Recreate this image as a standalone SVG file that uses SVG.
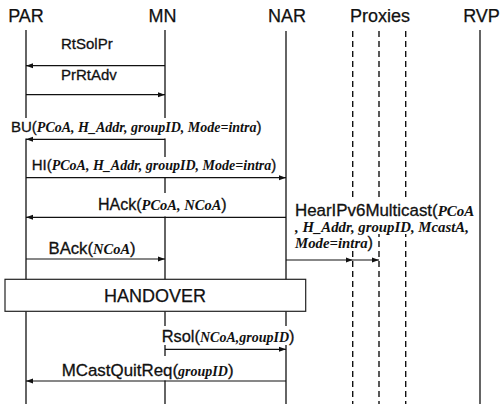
<svg xmlns="http://www.w3.org/2000/svg" width="503" height="404" viewBox="0 0 503 404">
<defs>
<style>
.hdr{font-family:"Liberation Sans",Arial,sans-serif;font-size:18px;fill:#111;stroke:#111;stroke-width:0.25;text-anchor:middle}
.lbl{font-family:"Liberation Sans",Arial,sans-serif;font-size:15px;fill:#111;stroke:#111;stroke-width:0.3}
.p{font-family:"Liberation Serif","Times New Roman",serif;font-style:italic;font-weight:bold;stroke:none}
.life{stroke:#111;stroke-width:1.3;fill:none}
.proxy{stroke:#111;stroke-width:1.4;fill:none;stroke-dasharray:6 4}
.msg{stroke:#111;stroke-width:1.2;fill:none;marker-end:url(#ah)}
.bg{fill:#fff;stroke:none}
</style>
<marker id="ah" markerUnits="userSpaceOnUse" markerWidth="8" markerHeight="6" refX="7" refY="3" orient="auto">
<path d="M0,0.5 L7,3 L0,5.5 z" fill="#111"/>
</marker>
</defs>
<rect width="503" height="404" fill="#fff"/>

<g id="PAR"><text class="hdr" x="26" y="21.7">PAR</text><line class="life" x1="26" y1="30" x2="26" y2="404"/></g>
<g id="MN"><text class="hdr" x="162.5" y="21.7">MN</text><line class="life" x1="165" y1="30" x2="165" y2="404"/></g>
<g id="NAR"><text class="hdr" x="287" y="21.7">NAR</text><line class="life" x1="286" y1="31" x2="286" y2="404"/></g>
<g id="Proxies"><text class="hdr" x="380" y="21.7">Proxies</text>
<line class="proxy" x1="352.7" y1="31" x2="352.7" y2="404"/>
<line class="proxy" x1="379" y1="31" x2="379" y2="404"/>
<line class="proxy" x1="405.7" y1="31" x2="405.7" y2="404"/></g>
<g id="RVP"><text class="hdr" x="481.5" y="21.7">RVP</text><line class="life" x1="480" y1="30" x2="480" y2="404"/></g>

<g id="labels">
<rect class="bg" x="9" y="118" width="256" height="20.5"/>
<rect class="bg" x="30" y="157" width="250" height="20"/>
<rect class="bg" x="96" y="193" width="134" height="23.5"/>
<rect class="bg" x="293" y="201" width="185" height="18"/>
<rect class="bg" x="293" y="219" width="180" height="15"/>
<rect class="bg" x="293" y="234" width="83" height="17"/>
<rect class="bg" x="160" y="326" width="137" height="19"/>
<rect class="bg" x="60" y="356" width="176" height="24.5"/>

<text class="lbl" x="61" y="49">RtSolPr</text>
<text class="lbl" x="61" y="80">PrRtAdv</text>
<text class="lbl" x="11" y="131.5">BU(<tspan class="p" font-size="14">PCoA, H_Addr, groupID, Mode=intra</tspan>)</text>
<text class="lbl" x="31.7" y="169.5">HI(<tspan class="p" font-size="14">PCoA, H_Addr, groupID, Mode=intra</tspan>)</text>
<text class="lbl" x="98" y="209.5" style="font-size:16px">HAck(<tspan class="p" font-size="14.5">PCoA, NCoA</tspan>)</text>
<text class="lbl" x="48.5" y="253.5" style="font-size:16.7px">BAck(<tspan class="p" font-size="14.5">NCoA</tspan>)</text>
<text class="lbl" x="295" y="216" style="font-size:16.9px">HearIPv6Multicast(<tspan class="p" font-size="15">PCoA</tspan></text>
<text class="lbl" x="295" y="231.5"><tspan class="p" font-size="14.8">, H_Addr, groupID, McastA,</tspan></text>
<text class="lbl" x="295" y="248" style="font-size:16.5px"><tspan class="p" font-size="14.8">Mode=intra</tspan>)</text>
<text class="lbl" x="161.7" y="342" style="font-size:16.4px">Rsol(<tspan class="p" font-size="14">NCoA,groupID</tspan>)</text>
<text class="lbl" x="61.7" y="375.5" style="font-size:16.9px">MCastQuitReq(<tspan class="p" font-size="14">groupID</tspan>)</text>
</g>

<g id="connectors">
<line class="msg" x1="165" y1="65.7" x2="26" y2="65.7"/>
<line class="msg" x1="26" y1="94.7" x2="165" y2="94.7"/>
<line class="msg" x1="165" y1="139.3" x2="26" y2="139.3"/>
<line class="msg" x1="26" y1="177.7" x2="286" y2="177.7"/>
<line class="msg" x1="286" y1="217.3" x2="26" y2="217.3"/>
<line class="msg" x1="26" y1="259" x2="165" y2="259"/>
<polyline class="msg" points="286,260 352.7,260 379,260" style="marker-mid:url(#ah)"/>
<line class="msg" x1="165" y1="349.3" x2="286" y2="349.3"/>
<line class="msg" x1="286" y1="381" x2="26" y2="381"/>
</g>

<g id="HANDOVER">
<rect x="5" y="279.3" width="300.7" height="32" fill="#fff" stroke="#222" stroke-width="1.2"/>
<text class="hdr" x="155" y="302">HANDOVER</text>
</g>
</svg>
